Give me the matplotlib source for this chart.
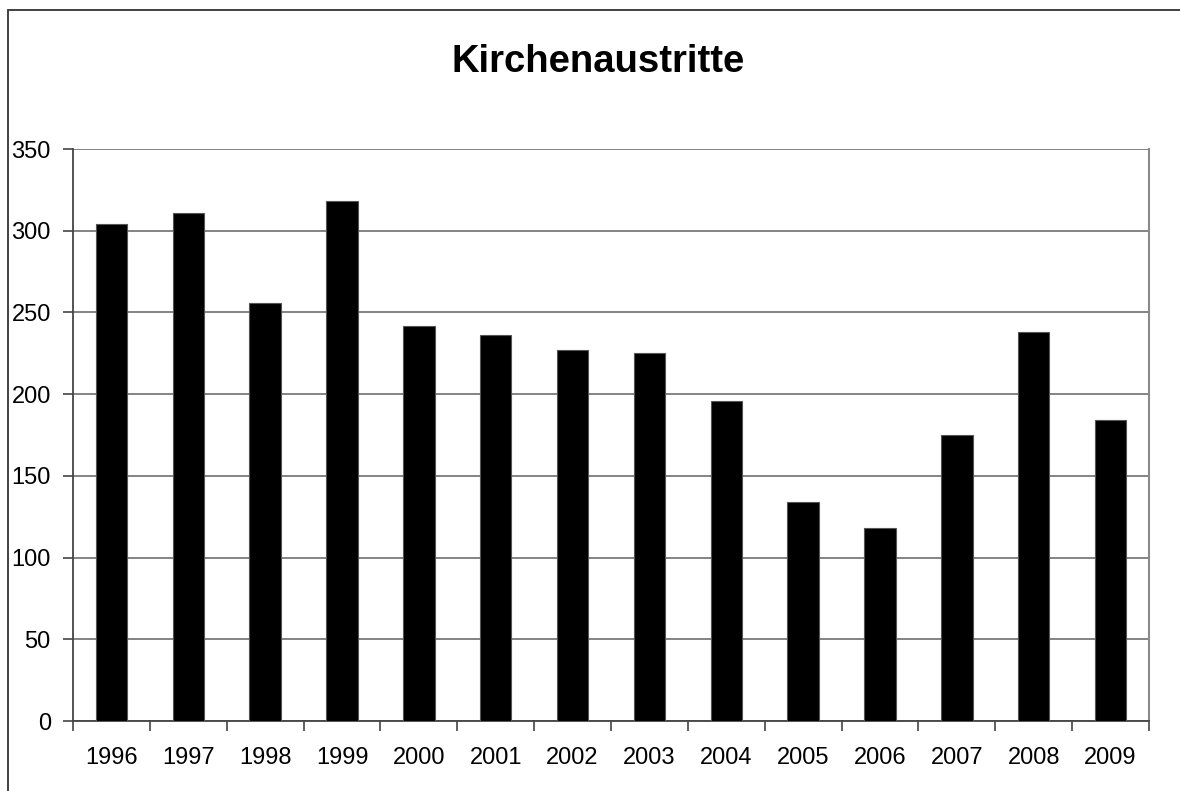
import matplotlib
matplotlib.use("Agg")
import matplotlib.pyplot as plt
from matplotlib.patches import Rectangle

years = ["1996", "1997", "1998", "1999", "2000", "2001", "2002",
         "2003", "2004", "2005", "2006", "2007", "2008", "2009"]
values = [304, 311, 256, 318, 242, 236, 227, 225, 196, 134, 118, 175, 238, 184]
yticks = [0, 50, 100, 150, 200, 250, 300, 350]

plt.rcParams['font.family'] = ['Liberation Sans', 'DejaVu Sans']

W, H = 1180, 791
fig = plt.figure(figsize=(W / 100, H / 100), dpi=100)
fig.patches.append(Rectangle((8 / W, -0.1), 1.2, 1 - 10 / H + 0.1,
                             transform=fig.transFigure, fill=False,
                             edgecolor='#333333', linewidth=1.3))

left, right, top, bottom = 73, 1149, 149, 721
ax = fig.add_axes([left / W, 1 - bottom / H, (right - left) / W, (bottom - top) / H])

x = list(range(len(years)))
ax.bar(x, values, width=0.41, color='black', edgecolor='#555555', linewidth=0.8, zorder=3)
ax.set_xlim(-0.5, len(years) - 0.5)
ax.set_ylim(0, 350)
ax.set_yticks(yticks)
ax.set_yticklabels([str(v) for v in yticks], fontsize=17)
ax.set_xticks(x)
ax.set_xticklabels(years, fontsize=17)
ax.tick_params(axis='x', length=0, pad=19)
ax.set_xticks([i - 0.5 for i in range(len(years) + 1)], minor=True)
ax.tick_params(axis='x', which='minor', length=7, color='#444444', width=1.2, direction='out')
ax.tick_params(axis='y', length=7, color='#444444', width=1.2, direction='out', pad=9)
ax.yaxis.grid(True, color='#7a7a7a', linewidth=1.3, zorder=0)
ax.set_axisbelow(True)
for s in ['left', 'bottom']:
    ax.spines[s].set_color('#444444')
    ax.spines[s].set_linewidth(1.3)
ax.spines['right'].set_color('#8a8a8a')
ax.spines['right'].set_linewidth(1.5)
ax.spines['top'].set_visible(False)

fig.text(598 / W, 1 - 72 / H, "Kirchenaustritte", ha='center', va='baseline',
         fontsize=27.5, fontweight='bold')

fig.savefig("out.png", dpi=100)
